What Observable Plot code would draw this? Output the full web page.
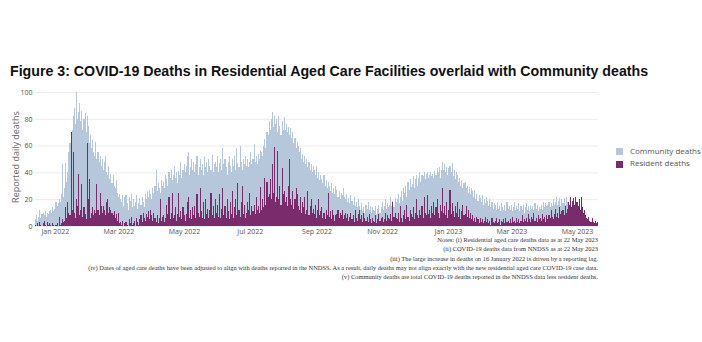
<!DOCTYPE html>
<html>
<head>
<meta charset="utf-8">
<script src="https://cdn.jsdelivr.net/npm/d3@7"></script>
<script src="https://cdn.jsdelivr.net/npm/@observablehq/plot@0.6"></script>
<style>
  html, body { margin: 0; padding: 0; background: #fff; }
  #wrap { position: relative; width: 702px; height: 342px; overflow: hidden; font-family: "Open Sans", sans-serif; }
  #title { position: absolute; left: 10px; top: 63px; font-family: "Liberation Sans", Arial, sans-serif; font-weight: bold; font-size: 14.2px; color: #111; white-space: nowrap; }
  #chart { position: absolute; left: 0; top: 0; }
  #ylab { position: absolute; left: 15px; top: 157px; transform: translate(-50%, -50%) rotate(-90deg); font-size: 9px; color: #666; white-space: nowrap; }
  .leg { position: absolute; left: 616px; font-size: 8px; color: #555; white-space: nowrap; }
  .leg span { display: inline-block; width: 7px; height: 7px; vertical-align: middle; margin-right: 7px; }
  #notes { position: absolute; right: 104px; top: 235px; font-family: "Liberation Serif", "Times New Roman", serif; font-size: 6.45px; line-height: 9.3px; color: #333; text-align: right; white-space: nowrap; }
</style>
</head>
<body>
<div id="wrap">
  <div id="chart"></div>
  <div id="title"></div>
  <div id="ylab"></div>
  <div id="notes"></div>
</div>
<script>
// ---- data (daily, starting at startDate) ----
const titleText = "Figure 3: COVID-19 Deaths in Residential Aged Care Facilities overlaid with Community deaths";
const yLabel = "Reported daily deaths";
const seriesNames = ["Community deaths", "Resident deaths"];
const seriesColors = ["#b6c7dc", "#7a2b6c"];
const startDate = "2021-12-14";
const xTickDates = ["2022-01-01", "2022-03-01", "2022-05-01", "2022-07-01", "2022-09-01", "2022-11-01", "2023-01-01", "2023-03-01", "2023-05-01"];
const yTicks = [0, 20, 40, 60, 80, 100];
const notes = [
  "Notes: (i) Residential aged care deaths data as at 22 May 2023",
  "(ii) COVID-19 deaths data from NNDSS as at 22 May 2023",
  "(iii) The large increase in deaths on 16 January 2022 is driven by a reporting lag.",
  "(iv) Dates of aged care deaths have been adjusted to align with deaths reported in the NNDSS. As a result, daily deaths may not align exactly with the new residential aged care COVID-19 case data.",
  "(v) Community deaths are total COVID-19 deaths reported in the NNDSS data less resident deaths."
];

const community = [
  5, 8, 4, 7, 12, 6, 9,
  10, 8, 11, 7, 10, 9, 11,
  12, 10, 14, 11, 13, 18, 15,
  17, 20, 18, 24, 46, 22, 28,
  47, 33, 40, 55, 62, 66, 72,
  82, 88, 76, 100, 80, 85, 92,
  78, 86, 72, 80, 84, 70, 82,
  75, 62, 68, 58, 64, 55, 52,
  63, 50, 55, 48, 52, 45, 50,
  42, 48, 52, 40, 38, 45, 35,
  39, 32, 38, 30, 28, 34, 25,
  22, 24, 20, 18, 23, 15, 22,
  23, 17, 12, 22, 19, 24, 14,
  20, 15, 18, 23, 13, 17, 21,
  16, 22, 18, 14, 24, 20, 26,
  22, 27, 24, 20, 28, 25, 30,
  42, 26, 32, 28, 25, 34, 30,
  33, 28, 38, 35, 30, 40, 36,
  42, 34, 38, 45, 36, 40, 32,
  41, 38, 48, 36, 42, 46, 40,
  45, 52, 55, 38, 44, 50, 42,
  48, 40, 46, 52, 38, 44, 50,
  42, 46, 38, 52, 44, 48, 40,
  50, 45, 42, 53, 40, 46, 48,
  44, 52, 40, 47, 50, 42, 58,
  46, 50, 44, 38, 48, 52, 45,
  40, 50, 45, 52, 42, 58, 47,
  44, 60, 48, 42, 50, 46, 52,
  45, 50, 44, 48, 55, 46, 50,
  61, 48, 52, 46, 54, 50, 56,
  55, 52, 60, 65, 58, 70, 68,
  78, 72, 80, 85, 74, 82, 76,
  80, 70, 82, 75, 68, 78, 72,
  81, 72, 76, 70, 74, 68, 73,
  66, 70, 62, 66, 58, 63, 60,
  55, 58, 50, 54, 48, 52, 46,
  50, 44, 48, 42, 46, 40, 45,
  42, 38, 45, 36, 40, 34, 38,
  35, 32, 38, 30, 34, 28, 33,
  30, 26, 32, 25, 28, 24, 30,
  27, 22, 26, 20, 25, 23, 28,
  22, 20, 24, 18, 21, 17, 23,
  19, 16, 22, 15, 18, 14, 20,
  15, 12, 17, 11, 14, 10, 16,
  13, 18, 12, 15, 10, 14, 12,
  11, 15, 9, 13, 16, 10, 14,
  18, 12, 15, 20, 13, 17, 14,
  16, 22, 15, 19, 14, 21, 18,
  20, 24, 17, 22, 26, 19, 28,
  25, 30, 22, 33, 27, 35, 29,
  31, 37, 28, 35, 38, 30, 36,
  40, 33, 38, 37, 40, 35, 39,
  40, 36, 38, 40, 37, 39, 36,
  41, 38, 43, 40, 44, 36, 42,
  48, 42, 46, 40, 44, 38, 43,
  45, 40, 47, 37, 42, 35, 40,
  38, 33, 36, 30, 34, 28, 32,
  33, 28, 30, 25, 29, 24, 28,
  26, 22, 27, 20, 24, 19, 23,
  21, 18, 23, 16, 20, 17, 22,
  19, 15, 20, 14, 18, 13, 17,
  16, 12, 18, 13, 15, 11, 17,
  14, 12, 16, 11, 18, 13, 15,
  12, 16, 11, 14, 18, 12, 15,
  13, 17, 11, 15, 12, 16, 10,
  14, 17, 12, 15, 11, 16, 13,
  15, 12, 17, 13, 16, 11, 14,
  13, 16, 12, 18, 14, 17, 15,
  16, 18, 14, 17, 15, 20, 16,
  18, 22, 16, 19, 21, 15, 20,
  17, 21, 16, 22, 18, 14, 12,
  12, 10, 8, 6, 5, 4, 3,
  3, 2, 3, 2, 2, 3, 2,
  2, 1, 2, 1, 2, 1, 1,
  1, 1, 0, 1, 0
];

const resident = [
  1, 0, 2, 0, 3, 1, 0,
  2, 4, 1, 0, 3, 1, 2,
  1, 0, 2, 1, 0, 1, 2,
  0, 7, 1, 2, 5, 3, 4,
  14, 6, 18, 10, 8, 70, 12,
  55, 10, 6, 20, 15, 39, 8,
  12, 31, 7, 14, 9, 5, 62,
  20, 35, 6, 10, 14, 8, 12,
  10, 31, 12, 8, 25, 15, 10,
  15, 12, 8, 18, 20, 10, 14,
  12, 10, 8, 11, 6, 9, 4,
  10, 2, 3, 1, 4, 0, 2,
  3, 1, 0, 5, 2, 7, 1,
  2, 4, 0, 6, 3, 1, 5,
  8, 3, 10, 6, 4, 9, 7,
  11, 5, 12, 8, 4, 10, 6,
  3, 8, 2, 6, 20, 4, 7,
  8, 3, 6, 16, 9, 22, 5,
  10, 25, 6, 8, 14, 4, 9,
  25, 7, 11, 5, 14, 8, 4,
  9, 18, 22, 6, 12, 5, 14,
  8, 15, 6, 24, 10, 7, 28,
  11, 6, 18, 5, 20, 9, 13,
  6, 12, 25, 8, 15, 6, 20,
  10, 16, 7, 24, 6, 13, 28,
  8, 15, 6, 20, 11, 5, 18,
  9, 26, 6, 14, 20, 8, 32,
  12, 7, 18, 30, 9, 16, 6,
  10, 18, 12, 25, 8, 15, 11,
  16, 9, 22, 12, 15, 10, 29,
  12, 20, 14, 36, 16, 33, 22,
  24, 35, 20, 46, 25, 59, 18,
  22, 56, 20, 30, 16, 43, 24,
  26, 18, 22, 15, 30, 50, 20,
  16, 26, 13, 20, 28, 24, 15,
  12, 22, 10, 18, 14, 22, 9,
  12, 26, 8, 15, 20, 10, 13,
  9, 16, 6, 12, 20, 8, 11,
  14, 6, 10, 5, 12, 8, 25,
  7, 11, 5, 12, 8, 4, 8,
  9, 12, 6, 10, 8, 12, 5,
  8, 10, 6, 9, 4, 7, 10,
  5, 8, 3, 12, 6, 4, 9,
  12, 5, 8, 3, 10, 6, 4,
  7, 3, 9, 5, 2, 6, 4,
  3, 8, 2, 5, 9, 4, 6,
  7, 3, 5, 10, 4, 8, 6,
  5, 9, 4, 18, 7, 10, 6,
  5, 10, 3, 15, 6, 3, 8,
  12, 5, 16, 7, 4, 12, 9,
  7, 14, 5, 10, 20, 8, 6,
  12, 8, 15, 6, 22, 10, 8,
  23, 9, 12, 6, 15, 10, 18,
  8, 14, 20, 10, 6, 16, 11,
  28, 10, 15, 8, 18, 6, 12,
  27, 9, 17, 11, 7, 15, 10,
  18, 7, 13, 5, 11, 16, 8,
  9, 15, 7, 12, 6, 10, 5,
  8, 4, 6, 3, 7, 5, 2,
  6, 3, 5, 2, 4, 7, 3,
  5, 2, 4, 1, 6, 3, 2,
  4, 6, 2, 3, 5, 1, 4,
  3, 5, 2, 6, 3, 4, 2,
  5, 2, 7, 3, 4, 2, 6,
  3, 5, 2, 4, 8, 3, 5,
  4, 6, 3, 9, 5, 3, 7,
  5, 10, 4, 6, 3, 8, 5,
  6, 4, 9, 5, 7, 3, 8,
  5, 8, 6, 12, 7, 5, 9,
  13, 7, 10, 6, 14, 9, 11,
  12, 8, 15, 10, 13, 18, 16,
  22, 14, 19, 21, 16, 22, 18,
  15, 20, 12, 22, 14, 10, 12,
  8, 6, 5, 7, 4, 3, 6,
  3, 2, 4, 2, 3
];

// ---- build table ----
const start = new Date(startDate + "T00:00:00Z");
const rows = community.map((c, i) => {
  const date = d3.utcDay.offset(start, i);
  return {
    date,
    x1: d3.utcHour.offset(date, -12),
    x2: d3.utcHour.offset(date, 12),
    community: c,
    resident: resident[i] ?? 0
  };
});
const xDomain = [d3.utcHour.offset(start, -12), d3.utcHour.offset(rows[rows.length - 1].date, 12)];

const chart = Plot.plot({
  width: 702,
  height: 342,
  marginLeft: 35,
  marginRight: 104,
  marginTop: 92,
  marginBottom: 116,
  style: { fontFamily: "Open Sans, sans-serif", fontSize: "7px", color: "#555", background: "transparent" },
  x: {
    type: "utc",
    domain: xDomain,
    ticks: xTickDates.map(s => new Date(s + "T00:00:00Z")),
    tickFormat: d3.utcFormat("%b %Y"),
    tickSize: 0,
    tickPadding: 3,
    label: null
  },
  y: {
    domain: [0, 100],
    ticks: yTicks,
    tickSize: 0,
    tickPadding: 3,
    label: null
  },
  marks: [
    Plot.ruleY(yTicks, { stroke: "#ececec", strokeWidth: 1 }),
    Plot.rectY(rows, { x1: "x1", x2: "x2", y1: 0, y2: "community", fill: seriesColors[0], shapeRendering: "crispEdges" }),
    Plot.rectY(rows, { x1: "x1", x2: "x2", y1: 0, y2: "resident", fill: seriesColors[1], shapeRendering: "crispEdges" })
  ]
});
document.getElementById("chart").appendChild(chart);

document.getElementById("title").textContent = titleText;
document.getElementById("ylab").textContent = yLabel;

const wrap = document.getElementById("wrap");
seriesNames.forEach((name, i) => {
  const d = document.createElement("div");
  d.className = "leg";
  d.style.top = (145 + i * 12.3) + "px";
  const sw = document.createElement("span");
  sw.style.background = seriesColors[i];
  d.appendChild(sw);
  d.appendChild(document.createTextNode(name));
  wrap.appendChild(d);
});

const notesEl = document.getElementById("notes");
notes.forEach(t => {
  const l = document.createElement("div");
  l.textContent = t;
  notesEl.appendChild(l);
});
</script>
</body>
</html>
